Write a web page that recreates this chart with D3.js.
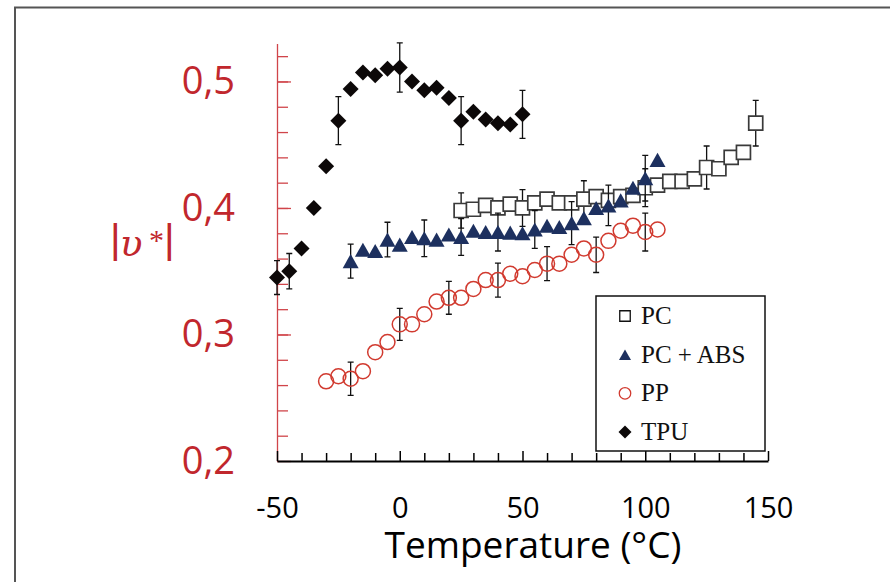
<!DOCTYPE html>
<html>
<head>
<meta charset="utf-8">
<script src="https://cdn.jsdelivr.net/npm/d3@7"></script>
<style>
  body { margin: 0; background: #fff; }
  svg { display: block; }
</style>
</head>
<body>
<div id="chart"></div>
<script>
// values
const tpuT = [-50, -45, -40, -35, -30, -25, -20, -15, -10, -5, 0, 5, 10, 15, 20, 25, 30, 35, 40, 45, 50];
const tpuV = [0.345, 0.350, 0.368, 0.400, 0.433, 0.469, 0.494, 0.507, 0.505, 0.510, 0.511, 0.500, 0.493, 0.495, 0.487, 0.469, 0.476, 0.470, 0.467, 0.466, 0.474];
const tpuErrT = [-50, -45, -25, 0, 25, 50];
const tpuErr = [0.0134, 0.014, 0.019, 0.0195, 0.019, 0.019];

const pcT = [25, 30, 35, 40, 45, 50, 55, 60, 65, 70, 75, 80, 85, 90, 95, 100, 105, 110, 115, 120, 125, 130, 135, 140, 145];
const pcV = [0.398, 0.399, 0.402, 0.400, 0.403, 0.400, 0.404, 0.407, 0.404, 0.404, 0.407, 0.409, 0.406, 0.409, 0.410, 0.416, 0.418, 0.421, 0.421, 0.423, 0.432, 0.431, 0.440, 0.444, 0.467];
const pcErrT = [25, 50, 75, 100, 125, 145];
const pcErr = [0.014, 0.0145, 0.0145, 0.015, 0.017, 0.018];

const absT = [-20, -15, -10, -5, 0, 5, 10, 15, 20, 25, 30, 35, 40, 45, 50, 55, 60, 65, 70, 75, 80, 85, 90, 95, 100, 105];
const absV = [0.358, 0.367, 0.366, 0.375, 0.371, 0.377, 0.376, 0.375, 0.379, 0.377, 0.382, 0.381, 0.381, 0.3805, 0.380, 0.383, 0.386, 0.385, 0.388, 0.392, 0.400, 0.402, 0.406, 0.416, 0.4235, 0.438];
const absErrT = [-20, -5, 10, 25, 40, 55, 70, 85, 100];
const absErr = [0.0134, 0.0137, 0.0145, 0.0145, 0.015, 0.015, 0.017, 0.016, 0.018];

const ppT = [-30, -25, -20, -15, -10, -5, 0, 5, 10, 15, 20, 25, 30, 35, 40, 45, 50, 55, 60, 65, 70, 75, 80, 85, 90, 95, 100, 105];
const ppV = [0.263, 0.267, 0.265, 0.271, 0.286, 0.294, 0.308, 0.308, 0.316, 0.326, 0.329, 0.329, 0.336, 0.343, 0.343, 0.348, 0.346, 0.351, 0.356, 0.356, 0.363, 0.368, 0.363, 0.374, 0.382, 0.386, 0.381, 0.383];
const ppErrT = [-20, 0, 20, 40, 60, 80, 100];
const ppErr = [0.0132, 0.0127, 0.013, 0.0134, 0.0134, 0.014, 0.015];

const xTicks = [-50, 0, 50, 100, 150];
const yTicks = [0.2, 0.3, 0.4, 0.5];
const legendNames = ['PC', 'PC + ABS', 'PP', 'TPU'];

var w = 890;
var h = 582;
const red = '#c1272d';

var x = d3.scaleLinear().domain([-50, 150]).range([277, 768]);
var y = d3.scaleLinear().domain([0.2, 0.53]).range([461, 43.5]);

var svg = d3.select('#chart')
  .append('svg')
  .attr('width', w)
  .attr('height', h);

svg.append('rect').attr('width', w).attr('height', h).attr('fill', '#fff');

// outer frame
svg.append('path')
  .attr('d', 'M15,' + h + 'L15,7.5L' + w + ',7.5')
  .attr('fill', 'none')
  .attr('stroke', '#555')
  .attr('stroke-width', 2);

// marker shapes
const shapes = {
  square: s => `M${-s/2},${-s/2}h${s}v${s}h${-s}Z`,
  triangle: s => `M0,${-s*0.44}L${s/2},${s*0.44}L${-s/2},${s*0.44}Z`,
  circle: s => `M${s/2},0A${s/2},${s/2} 0 1,1 ${-s/2},0A${s/2},${s/2} 0 1,1 ${s/2},0Z`,
  diamond: s => `M0,${-s/2}L${s/2},0L0,${s/2}L${-s/2},0Z`
};

const series = [
  {name: 'PP', t: ppT, v: ppV, et: ppErrT, e: ppErr, shape: 'circle', size: 15, fill: 'none', stroke: '#d13a2f', sw: 1.5},
  {name: 'PC', t: pcT, v: pcV, et: pcErrT, e: pcErr, shape: 'square', size: 14, fill: '#fff', stroke: '#3a3a3a', sw: 1.7},
  {name: 'PC + ABS', t: absT, v: absV, et: absErrT, e: absErr, shape: 'triangle', size: 16, fill: '#1d305f', stroke: 'none', sw: 0},
  {name: 'TPU', t: tpuT, v: tpuV, et: tpuErrT, e: tpuErr, shape: 'diamond', size: 16, fill: '#0c0808', stroke: 'none', sw: 0}
];

// axes: minor ticks first, then major ticks with labels
var yMinor = d3.axisLeft(y)
  .tickValues(d3.range(0.22, 0.53, 0.02))
  .tickSizeInner(-11).tickSizeOuter(0)
  .tickFormat('');
var yMajor = d3.axisLeft(y)
  .tickValues(yTicks)
  .tickSizeInner(-14).tickSizeOuter(0)
  .tickPadding(42)
  .tickFormat(d => d3.format('.1f')(d).replace('.', ','));

var gy1 = svg.append('g').attr('transform', 'translate(277,0)').call(yMinor);
gy1.select('.domain').remove();
gy1.selectAll('line').attr('stroke', '#d0454a').attr('stroke-width', 1.3);
var gy2 = svg.append('g').attr('transform', 'translate(277,0)').call(yMajor);
gy2.selectAll('line').attr('stroke', '#d0454a').attr('stroke-width', 1.3);
gy2.select('.domain').attr('stroke', '#d0454a').attr('stroke-width', 1.3);
gy2.selectAll('text')
  .attr('fill', red)
  .attr('font-family', '"Open Sans", sans-serif')
  .attr('font-size', 38);

var xMinor = d3.axisBottom(x)
  .tickValues(d3.range(-40, 150, 10).filter(d => d % 50 !== 0))
  .tickSizeInner(-8).tickSizeOuter(0)
  .tickFormat('');
var xMajor = d3.axisBottom(x)
  .tickValues(xTicks)
  .tickSizeInner(-10).tickSizeOuter(0)
  .tickPadding(36)
  .tickFormat(d => String(d));

var gx1 = svg.append('g').attr('transform', 'translate(0,461)').call(xMinor);
gx1.select('.domain').remove();
gx1.selectAll('line').attr('stroke', '#000').attr('stroke-width', 1.5);
var gx2 = svg.append('g').attr('transform', 'translate(0,461)').call(xMajor);
gx2.selectAll('line').attr('stroke', '#000').attr('stroke-width', 1.5);
gx2.select('.domain').attr('stroke', '#000').attr('stroke-width', 2);
gx2.selectAll('text')
  .attr('fill', '#000')
  .attr('font-family', '"Open Sans", sans-serif')
  .attr('font-size', 29);

// titles
svg.append('text')
  .attr('x', 533).attr('y', 558)
  .attr('text-anchor', 'middle')
  .attr('font-family', '"Open Sans", sans-serif')
  .attr('font-size', 37)
  .text('Temperature (°C)');

const yl = svg.append('text')
  .attr('fill', red)
  .attr('font-family', '"Liberation Sans", sans-serif')
  .attr('font-size', 41);
yl.append('tspan').attr('x', 110).attr('y', 253).text('|');
yl.append('tspan')
  .attr('x', 120).attr('y', 256)
  .attr('font-family', '"DejaVu Serif", serif')
  .attr('font-style', 'italic')
  .attr('font-size', 37)
  .text('υ');
yl.append('tspan')
  .attr('x', 149).attr('y', 250)
  .attr('font-family', '"Liberation Serif", serif')
  .attr('font-size', 30)
  .text('*');
yl.append('tspan').attr('x', 164).attr('y', 253).text('|');

// error bars and markers
series.forEach(s => {
  const g = svg.append('g');
  const bars = s.et.map((t, i) => ({t: t, v: s.v[s.t.indexOf(t)], e: s.e[i]}));
  g.selectAll('path.err')
    .data(bars)
    .enter()
    .append('path')
    .attr('class', 'err')
    .attr('d', d => {
      const cx = x(d.t), y0 = y(d.v - d.e), y1 = y(d.v + d.e);
      return `M${cx},${y0}V${y1}M${cx-3},${y0}H${cx+3}M${cx-3},${y1}H${cx+3}`;
    })
    .attr('fill', 'none')
    .attr('stroke', '#111')
    .attr('stroke-width', 1.3);

  g.selectAll('path.pt')
    .data(s.t.map((t, i) => ({t: t, v: s.v[i]})))
    .enter()
    .append('path')
    .attr('class', 'pt')
    .attr('transform', d => 'translate(' + x(d.t) + ',' + y(d.v) + ')')
    .attr('d', shapes[s.shape](s.size))
    .attr('fill', s.fill)
    .attr('stroke', s.stroke)
    .attr('stroke-width', s.sw);
});

// legend
const lg = svg.append('g');
lg.append('rect')
  .attr('x', 596).attr('y', 296)
  .attr('width', 169).attr('height', 155)
  .attr('fill', '#fff')
  .attr('stroke', '#111')
  .attr('stroke-width', 1.5);

const legendStyle = {
  'PC': {shape: 'square', size: 10.5, fill: '#fff', stroke: '#111', sw: 1.3},
  'PC + ABS': {shape: 'triangle', size: 12, fill: '#1d305f', stroke: 'none', sw: 0},
  'PP': {shape: 'circle', size: 11.5, fill: 'none', stroke: '#d13a2f', sw: 1.3},
  'TPU': {shape: 'diamond', size: 13, fill: '#0c0808', stroke: 'none', sw: 0}
};
const rowY = d3.scalePoint().domain(legendNames).range([316, 432]);

legendNames.forEach(n => {
  const st = legendStyle[n];
  lg.append('path')
    .attr('transform', 'translate(625,' + rowY(n) + ')')
    .attr('d', shapes[st.shape](st.size))
    .attr('fill', st.fill)
    .attr('stroke', st.stroke)
    .attr('stroke-width', st.sw);
  lg.append('text')
    .attr('x', 641).attr('y', rowY(n) + 8)
    .attr('font-family', '"Liberation Serif", serif')
    .attr('font-size', 25)
    .attr('fill', '#111')
    .text(n);
});
</script>
</body>
</html>
